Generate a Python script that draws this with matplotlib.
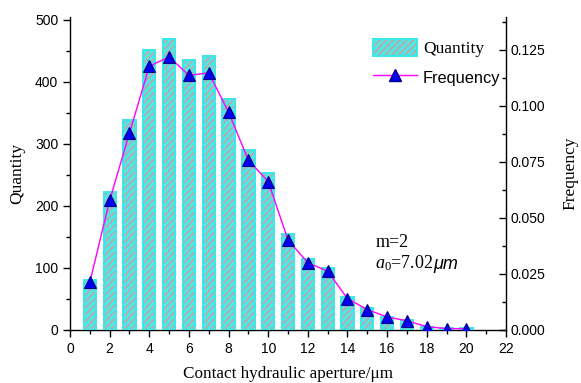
import matplotlib
matplotlib.use("Agg")
import matplotlib.pyplot as plt
from matplotlib.patches import Patch
from matplotlib.lines import Line2D
from matplotlib.ticker import MultipleLocator

aperture = [1, 2, 3, 4, 5, 6, 7, 8, 9, 10, 11, 12, 13, 14, 15, 16, 17, 18, 19, 20]
quantity = [80, 222, 338, 451, 469, 435, 441, 373, 290, 253, 154, 114, 100, 53, 35, 21, 16, 5, 3, 3]
frequency = [0.0213, 0.0578, 0.0878, 0.1176, 0.1218, 0.1135, 0.1147, 0.0971, 0.0757, 0.0662,
             0.0401, 0.0300, 0.0262, 0.0140, 0.0091, 0.0058, 0.0041, 0.0015, 0.0006, 0.0006]
xticks = [0, 2, 4, 6, 8, 10, 12, 14, 16, 18, 20, 22]

plt.rcParams['mathtext.fontset'] = 'custom'
plt.rcParams['mathtext.rm'] = 'Liberation Serif'
plt.rcParams['mathtext.it'] = 'Liberation Serif:italic'
plt.rcParams['hatch.linewidth'] = 1.7

SERIF = 'Liberation Serif'
SANS = 'Liberation Sans'

fig = plt.figure(figsize=(5.81, 3.83), dpi=100)
ax = fig.add_axes([0.1205, 0.1384, 0.7505, 0.818])
ax2 = ax.twinx()

face = '#45EEEE'
hatchc = '#A8B4B4'
edge = '#38E8E8'
width = 0.62
ax.bar(aperture, quantity, width=width, color=face, edgecolor=hatchc, linewidth=0,
       hatch='/////', zorder=2)
ax.bar(aperture, quantity, width=width, fill=False, edgecolor=edge, linewidth=1.4, zorder=3)

ax2.plot(aperture, frequency, color='#FF00FF', lw=1.0, marker='^', markersize=8,
         markerfacecolor='#0000EE', markeredgecolor='#00008B', markeredgewidth=0.8, zorder=4)

ax.set_xlim(0, 22)
ax.set_ylim(0, 505)
ax2.set_ylim(0, 0.1397)
ax.set_xticks(xticks)
ax.xaxis.set_minor_locator(MultipleLocator(1))
ax.yaxis.set_major_locator(MultipleLocator(100))
ax.yaxis.set_minor_locator(MultipleLocator(50))
ax2.yaxis.set_major_locator(MultipleLocator(0.025))
ax2.yaxis.set_minor_locator(MultipleLocator(0.0125))
ax2.yaxis.set_major_formatter(matplotlib.ticker.FormatStrFormatter('%.3f'))

for a in (ax, ax2):
    a.spines['top'].set_visible(False)
    for s in a.spines.values():
        s.set_linewidth(1.0)
ax.spines['right'].set_visible(False)
ax2.spines['left'].set_visible(False)
ax2.spines['bottom'].set_visible(False)

ax.tick_params(axis='both', which='major', direction='out', length=5, width=1, labelsize=10)
ax.tick_params(axis='both', which='minor', direction='out', length=3, width=1)
ax2.tick_params(axis='y', which='major', direction='in', length=5, width=1, labelsize=10)
ax2.tick_params(axis='y', which='minor', direction='in', length=3, width=1)
for lab in ax.get_xticklabels() + ax.get_yticklabels() + ax2.get_yticklabels():
    lab.set_family(SANS)

ax.set_xlabel('Contact hydraulic aperture/μm', family=SERIF, fontsize=12.3, labelpad=7)
ax.set_ylabel('Quantity', family=SERIF, fontsize=12.5, labelpad=7)
ax2.set_ylabel('Frequency', family=SERIF, fontsize=12.5, labelpad=12)

ax.text(15.4, 134, 'm=2', family=SERIF, fontsize=13, zorder=5)
ax.text(15.4, 99, r'$a_0$=7.02', family=SERIF, fontsize=13, zorder=5)
ax.text(18.35, 99, 'μm', family=SANS, style='italic', fontsize=13, zorder=5)

h1 = (Patch(facecolor=face, edgecolor=hatchc, hatch='/////', linewidth=0),
      Patch(fill=False, edgecolor=edge, linewidth=1.4))
h2 = Line2D([], [], color='#FF00FF', lw=1.0, marker='^', markersize=8,
            markerfacecolor='#0000EE', markeredgecolor='#00008B')
leg = ax2.legend([h1, h2], ['Quantity', 'Frequency'], loc='upper left',
                 bbox_to_anchor=(0.66, 0.98), frameon=False, fontsize=12.5,
                 handlelength=2.5, handleheight=1.2, handletextpad=0.35, labelspacing=0.6)
leg.get_texts()[0].set_family(SERIF)
leg.get_texts()[1].set_family(SANS)
leg.get_texts()[1].set_fontsize(11.8)

fig.savefig('out.png', dpi=100)
